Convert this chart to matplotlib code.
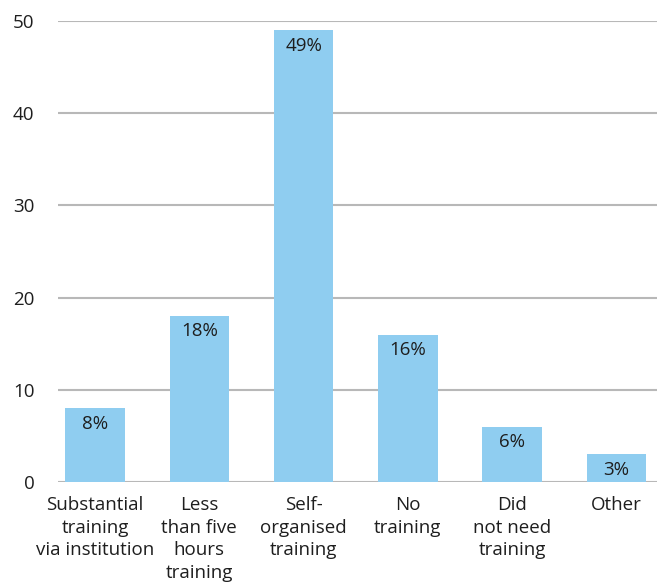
import numpy as np
import matplotlib
matplotlib.use('Agg')
import matplotlib.pyplot as plt

plt.rcParams['font.family'] = ['Open Sans', 'DejaVu Sans']

categories = ['Substantial\ntraining\nvia institution', 'Less\nthan five\nhours\ntraining',
              'Self-\norganised\ntraining', 'No\ntraining', 'Did\nnot need\ntraining', 'Other']
values = [8, 18, 49, 16, 6, 3]
labels = ['8%', '18%', '49%', '16%', '6%', '3%']

fig = plt.figure(figsize=(6.62, 5.85), dpi=100)
ax = fig.add_axes([0.0876, 0.176, 0.905, 0.788])

x = np.arange(len(values))
bars = ax.bar(x, values, width=0.57, color='#8fcdf0', zorder=2)

ax.set_ylim(0, 50)
ax.set_xlim(-0.355, 5.39)
ax.set_yticks(range(0, 51, 10))
ax.yaxis.grid(True, color='#b8b8b8', linewidth=1.5, zorder=0)
for s in ax.spines.values():
    s.set_visible(False)
ax.tick_params(axis='y', length=0, pad=17, labelsize=13.5, labelcolor='#1e1e1e')
ax.tick_params(axis='x', length=0, pad=10, labelsize=13.5, labelcolor='#1e1e1e')
ax.set_xticks(x)
ax.set_xticklabels(categories, linespacing=1.33, va='top')

# percentage labels inside the top of each bar
for xi, v, lab in zip(x, values, labels):
    ax.annotate(lab, xy=(xi, v), xytext=(0, -11), textcoords='offset points',
                ha='center', va='center', fontsize=13.5, color='#1e1e1e', zorder=3)

fig.savefig('out.png', dpi=100)
